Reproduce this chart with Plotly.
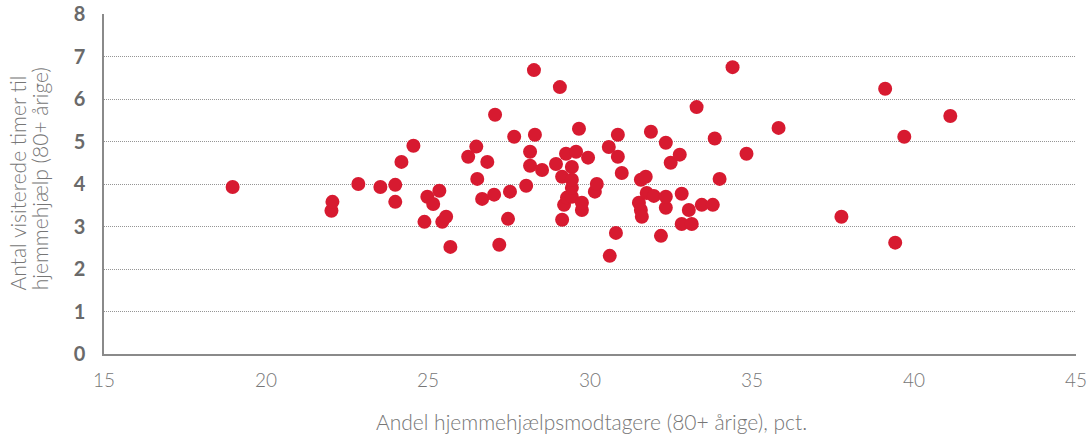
import plotly.graph_objects as go

# Andel hjemmehjælpsmodtagere (80+ årige), pct.
andel = [18.97, 22.02, 22.05, 22.85, 23.53, 23.99, 23.99, 24.18, 24.55, 24.89,
         24.98, 25.16, 25.35, 25.44, 25.56, 25.69, 26.24, 26.49, 26.52, 26.67,
         26.83, 27.07, 27.04, 27.20, 27.47, 27.53, 27.66, 28.03, 28.15, 28.15,
         28.27, 28.30, 28.52, 28.95, 29.07, 29.14, 29.14, 29.20, 29.26, 29.29,
         29.44, 29.44, 29.44, 29.44, 29.57, 29.66, 29.75, 29.75, 29.94, 30.15,
         30.21, 30.58, 30.61, 30.80, 30.86, 30.86, 30.98, 31.51, 31.57, 31.57,
         31.60, 31.72, 31.75, 31.88, 31.97, 32.19, 32.34, 32.34, 32.34, 32.49,
         32.77, 32.83, 32.83, 33.05, 33.14, 33.29, 33.45, 34.40, 33.79, 33.85,
         34.00, 34.83, 35.82, 37.76, 39.11, 39.42, 39.70, 41.12]
# Antal visiterede timer til hjemmehjælp (80+ årige)
timer = [3.93, 3.37, 3.58, 4.00, 3.93, 3.98, 3.58, 4.52, 4.90, 3.11,
         3.70, 3.53, 3.84, 3.11, 3.23, 2.52, 4.64, 4.88, 4.12, 3.65,
         4.52, 5.63, 3.75, 2.57, 3.18, 3.82, 5.11, 3.96, 4.76, 4.43,
         6.68, 5.16, 4.33, 4.47, 6.28, 3.16, 4.17, 3.51, 4.71, 3.68,
         3.70, 4.40, 3.91, 4.10, 4.76, 5.30, 3.39, 3.56, 4.62, 3.82,
         4.00, 4.87, 2.31, 2.85, 4.64, 5.16, 4.26, 3.56, 4.10, 3.39,
         3.23, 4.17, 3.79, 5.23, 3.72, 2.78, 3.44, 3.70, 4.97, 4.50,
         4.69, 3.77, 3.06, 3.39, 3.06, 5.81, 3.51, 6.75, 3.51, 5.07,
         4.12, 4.71, 5.32, 3.23, 6.24, 2.62, 5.11, 5.60]

x_ticks = [15, 20, 25, 30, 35, 40, 45]
y_ticks = [0, 1, 2, 3, 4, 5, 6, 7, 8]

x_title = "Andel hjemmehjælpsmodtagere (80+ årige), pct."
y_title_lines = ["Antal visiterede timer til", "hjemmehjælp (80+ årige)"]

FONT = "Lato"
GREY = "#767676"

fig = go.Figure()
fig.add_trace(go.Scatter(
    x=andel, y=timer, mode="markers",
    marker=dict(color="#d71a30", size=14, line=dict(width=0)),
    hoverinfo="x+y", showlegend=False,
))

fig.update_layout(
    width=1088, height=434,
    margin=dict(l=104, r=12, t=14, b=80, autoexpand=False),
    paper_bgcolor="white", plot_bgcolor="white",
    font=dict(family=FONT, color=GREY),
)
fig.update_xaxes(
    range=[15, 45], tickvals=x_ticks, ticktext=[str(v) for v in x_ticks],
    showgrid=False, zeroline=False, automargin=False,
    showline=True, linecolor="#8a8a8a", linewidth=1.5,
    ticks="", ticklabelstandoff=8, ticklabeloverflow="allow",
    tickfont=dict(family=FONT, size=19, color=GREY, weight=300),
)
fig.update_yaxes(
    range=[0, 8], tickvals=y_ticks, ticktext=[str(v) for v in y_ticks],
    showgrid=True, gridcolor="#959595", gridwidth=1, griddash="1px,1px",
    zeroline=False, automargin=False,
    showline=True, linecolor="#8a8a8a", linewidth=1.5,
    ticks="", ticklabelstandoff=13, ticklabeloverflow="allow",
    tickfont=dict(family=FONT, size=20, color="#6a6a6a", weight="bold"),
)

fig.add_annotation(
    text=x_title, xref="paper", yref="paper", x=0.5015, y=-0.198,
    xanchor="center", yanchor="middle", showarrow=False,
    font=dict(family=FONT, size=21, color=GREY, weight=300),
)
for line, xp in zip(y_title_lines, [-0.0892, -0.0667]):
    fig.add_annotation(
        text=line, xref="paper", yref="paper", x=xp, y=0.1806,
        xanchor="center", yanchor="bottom", showarrow=False, textangle=-90,
        font=dict(family=FONT, size=21, color=GREY, weight=300),
    )

fig.write_html("out.html", config={"displayModeBar": False},
               post_script="document.body.style.margin='0';")
